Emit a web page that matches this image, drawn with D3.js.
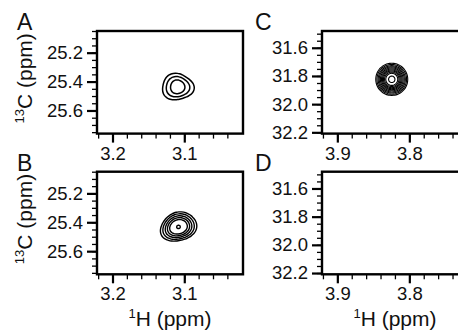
<!DOCTYPE html>
<html>
<head>
<meta charset="utf-8">
<script src="https://cdn.jsdelivr.net/npm/d3@7"></script>
<style>
  body { margin: 0; background: #fff; }
  svg { display: block; font-family: "Liberation Sans", Arial, sans-serif; }
</style>
</head>
<body>
<div id="chart"></div>
<script>
// panel letters
const panelNames = ['A', 'B', 'C', 'D'];

// 1H ranges (ppm, left -> right) and 13C ranges (ppm, top -> bottom)
const hDomainAB = [3.2216, 3.0182];
const hDomainCD = [3.9213, 3.7185];
const cDomainAB = [25.05, 25.76];
const cDomainCD = [31.481, 32.209];

// labelled ticks
const hTicksAB = [3.2, 3.1];
const hTicksCD = [3.9, 3.8];
const cTicksAB = [25.2, 25.4, 25.6];
const cTicksCD = [31.6, 31.8, 32.0, 32.2];

// peak centres [1H, 13C]
const peakA = [3.1094, 25.437];
const peakB = [3.1081, 25.432];
const peakC = [3.8244, 31.824];

// contour half-widths [1H, 13C] in ppm, outer -> inner
const contoursA = [[0.0219, 0.0906], [0.0163, 0.0697], [0.0100, 0.0474]];
const contoursB = [[0.0257, 0.0976], [0.0222, 0.0857], [0.0188, 0.0732],
                   [0.0157, 0.0613], [0.0125, 0.0488], [0.0025, 0.0115]];
const contoursC = [[0.0222, 0.1143], [0.0206, 0.1057], [0.0189, 0.0971],
                   [0.0174, 0.0893], [0.0158, 0.0814], [0.0143, 0.0736],
                   [0.0129, 0.0664], [0.0115, 0.0593], [0.0100, 0.0514],
                   [0.0083, 0.0429], [0.0044, 0.0229]];

const width = 458, height = 330;

const svg = d3.select('#chart')
  .append('svg')
  .attr('width', width)
  .attr('height', height);

// layout of the four boxes
const panels = [
  { name: panelNames[0], x0: 97, y0: 31, letterX: 17, hDom: hDomainAB, cDom: cDomainAB, hT: hTicksAB, cT: cTicksAB,
    peak: peakA, rings: contoursA, tilt: 0, tri: 0.07, triPhase: 10, lw: 1.5, xTitle: false },
  { name: panelNames[1], x0: 97, y0: 171.7, letterX: 17, hDom: hDomainAB, cDom: cDomainAB, hT: hTicksAB, cT: cTicksAB,
    peak: peakB, rings: contoursB, tilt: -18, tri: 0.04, triPhase: 40, lw: 1.4, xTitle: true },
  { name: panelNames[2], x0: 322, y0: 31, letterX: 255, hDom: hDomainCD, cDom: cDomainCD, hT: hTicksCD, cT: cTicksCD,
    peak: peakC, rings: contoursC, tilt: 0, tri: 0, triPhase: 0, lw: 1.1, xTitle: false },
  { name: panelNames[3], x0: 322, y0: 171.7, letterX: 255, hDom: hDomainCD, cDom: cDomainCD, hT: hTicksCD, cT: cTicksCD,
    peak: null, rings: [], tilt: 0, tri: 0, triPhase: 0, lw: 1, xTitle: true }
];
const boxW = 146, boxH = 102.6;

const line = d3.line().curve(d3.curveCardinalClosed.tension(0.3));

panels.forEach(p => {
  const x = d3.scaleLinear().domain(p.hDom).range([p.x0, p.x0 + boxW]);
  const y = d3.scaleLinear().domain(p.cDom).range([p.y0, p.y0 + boxH]);
  const g = svg.append('g');

  // minor ticks
  const hMinor = d3.range(Math.round(Math.min(...p.hDom) * 50) + 1, Math.max(...p.hDom) * 50 + 1e-6)
    .map(v => v / 50).filter(v => v > Math.min(...p.hDom) && v < Math.max(...p.hDom));
  const cMinor = d3.range(Math.ceil(p.cDom[0] * 20 - 1e-6), p.cDom[1] * 20 + 1e-6)
    .map(v => v / 20);

  g.append('g')
    .attr('transform', `translate(0,${p.y0 + boxH})`)
    .call(d3.axisBottom(x).tickValues(hMinor).tickSize(5).tickFormat(''))
    .call(a => a.select('.domain').remove())
    .call(a => a.selectAll('line').attr('stroke-width', 1.3));
  g.append('g')
    .attr('transform', `translate(${p.x0},0)`)
    .call(d3.axisLeft(y).tickValues(cMinor).tickSize(5).tickFormat(''))
    .call(a => a.select('.domain').remove())
    .call(a => a.selectAll('line').attr('stroke-width', 1.3));

  // major ticks with labels
  g.append('g')
    .attr('transform', `translate(0,${p.y0 + boxH})`)
    .call(d3.axisBottom(x).tickValues(p.hT).tickSize(9).tickPadding(4).tickFormat(d3.format('.1f')))
    .call(a => a.select('.domain').remove())
    .call(a => a.selectAll('line').attr('stroke-width', 2.2))
    .call(a => a.selectAll('text').attr('font-size', 18.5).attr('fill', '#111')
      .style('font-family', '"Liberation Sans", Arial, sans-serif'));
  g.append('g')
    .attr('transform', `translate(${p.x0},0)`)
    .call(d3.axisLeft(y).tickValues(p.cT).tickSize(10).tickPadding(4).tickFormat(d3.format('.1f')))
    .call(a => a.select('.domain').remove())
    .call(a => a.selectAll('line').attr('stroke-width', 2.2))
    .call(a => a.selectAll('text').attr('font-size', 18.5).attr('fill', '#111')
      .style('font-family', '"Liberation Sans", Arial, sans-serif'));

  // frame
  g.append('rect')
    .attr('x', p.x0).attr('y', p.y0)
    .attr('width', boxW).attr('height', boxH)
    .attr('fill', 'none').attr('stroke', '#000').attr('stroke-width', 2.4);

  // contours
  if (p.peak) {
    const cx = x(p.peak[0]), cy = y(p.peak[1]);
    const rx0 = Math.abs(x(p.peak[0] + p.rings[0][0]) - cx);
    const tilt = p.tilt * Math.PI / 180;
    const ph = p.triPhase * Math.PI / 180;
    p.rings.forEach(r => {
      const rx = Math.abs(x(p.peak[0] + r[0]) - cx);
      const ry = Math.abs(y(p.peak[1] + r[1]) - cy);
      const k = p.tri * rx / rx0;
      const pts = d3.range(48).map(i => {
        const t = i / 48 * 2 * Math.PI;
        const f = 1 + k * Math.cos(3 * (t - ph));
        const ux = rx * f * Math.cos(t), uy = ry * f * Math.sin(t);
        return [cx + ux * Math.cos(tilt) - uy * Math.sin(tilt),
                cy + ux * Math.sin(tilt) + uy * Math.cos(tilt)];
      });
      g.append('path')
        .attr('d', line(pts))
        .attr('fill', 'none')
        .attr('stroke', '#000')
        .attr('stroke-width', p.lw);
    });
  }

  // panel letter
  svg.append('text')
    .attr('x', p.letterX).attr('y', p.y0 - 1)
    .attr('font-size', 23)
    .attr('fill', '#111')
    .text(p.name);

  // 1H title
  if (p.xTitle) {
    const t = svg.append('text')
      .attr('x', p.x0 + boxW / 2).attr('y', p.y0 + boxH + 52)
      .attr('text-anchor', 'middle')
      .attr('font-size', 21)
      .attr('fill', '#111');
    t.append('tspan').attr('font-size', 13).attr('dy', -8).text('1');
    t.append('tspan').attr('dy', 8).text('H (ppm)');
  }
});

// 13C titles on the left panels
[panels[0], panels[1]].forEach(p => {
  const t = svg.append('text')
    .attr('transform', `translate(32,${p.y0 + boxH / 2 - 4}) rotate(-90)`)
    .attr('text-anchor', 'middle')
    .attr('font-size', 21)
    .attr('fill', '#111');
  t.append('tspan').attr('font-size', 13).attr('dy', -8).text('13');
  t.append('tspan').attr('dy', 8).text('C (ppm)');
});
</script>
</body>
</html>
